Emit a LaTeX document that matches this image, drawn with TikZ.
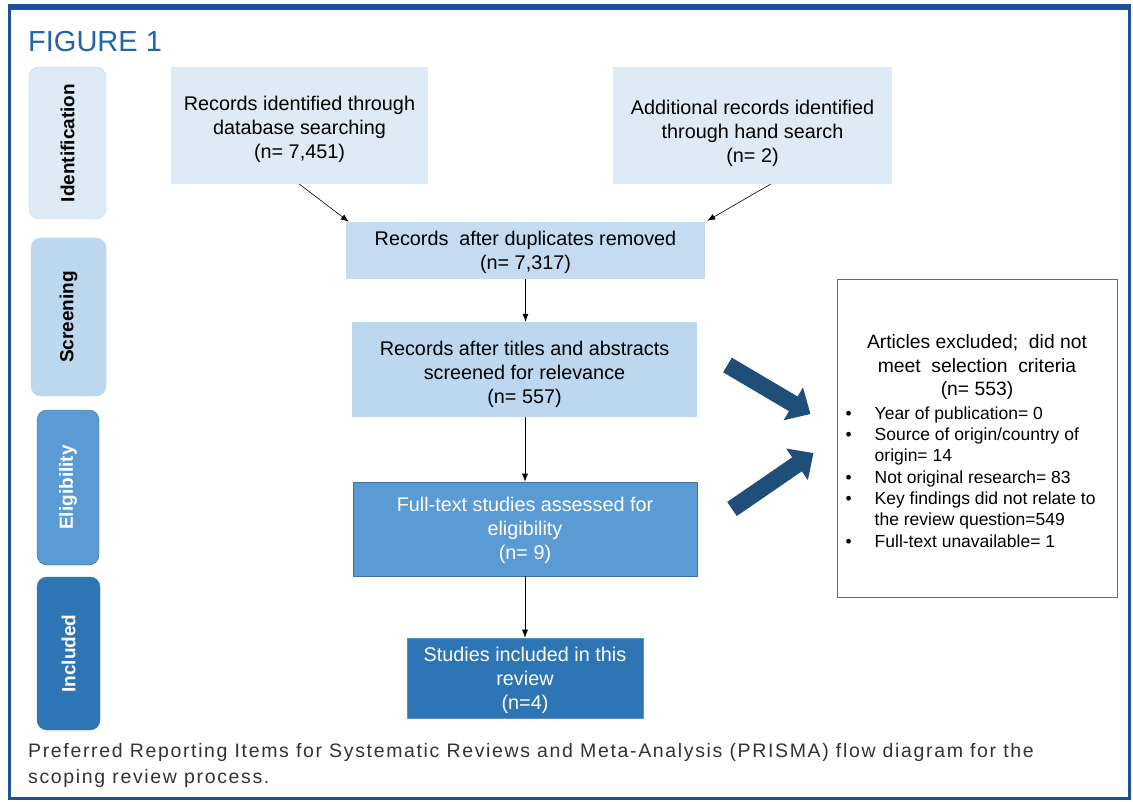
\documentclass[tikz,border=0pt]{standalone}
\usepackage{fontspec}
\setmainfont{Liberation Sans}
\newfontfamily\capfont[LetterSpace=8.5]{Liberation Sans}
\usetikzlibrary{arrows.meta,calc}
\definecolor{frameblue}{HTML}{1B529C}
\definecolor{titleblue}{HTML}{2363AE}
\definecolor{lightA}{HTML}{DEEBF7}
\definecolor{lightB}{HTML}{BDD7EE}
\definecolor{lightC}{HTML}{C4DBF0}
\definecolor{midblue}{HTML}{5B9BD5}
\definecolor{midborder}{HTML}{41719C}
\definecolor{darkblue}{HTML}{2E75B6}
\definecolor{navy}{HTML}{1F4E79}
\definecolor{gborder}{HTML}{4F6F95}
\definecolor{captiongray}{HTML}{333333}
\newcommand{\toppad}[1]{\rule{0pt}{#1pt}}
\begin{document}
\begin{tikzpicture}[x=1pt,y=-1pt,
  stagebox/.style={rounded corners=10pt, rotate=90, inner sep=0pt, font=\fontsize{19}{22}\selectfont\bfseries},
  flowbox/.style={rectangle, inner sep=0pt, align=center, font=\fontsize{19.8}{24}\selectfont},
  thinarrow/.style={draw=black, line width=0.6pt, -{Latex[length=8pt,width=6pt]}},
  bigarrow/.style={draw=navy, line width=17pt, -{Triangle[length=20pt,width=37pt]}},
]
\useasboundingbox (0,0) rectangle (1133,802);
\fill[white] (0,0) rectangle (1133,802);
% frame
\draw[frameblue, line width=3pt] (9,8) rectangle (1129,798);
\draw[frameblue, line width=6pt] (7.5,7) -- (1130.5,7);
% title
\node[anchor=base west, inner sep=0pt, text=titleblue, font=\fontsize{29}{32}\selectfont] (title) at (28,52) {FIGURE 1};

% stage boxes
\node[stagebox, fill=lightA, draw=lightB, minimum width=152pt, minimum height=77pt] (sid) at (67.5,143) {Identification};
\node[stagebox, fill=lightB, draw=lightB, minimum width=158pt, minimum height=75pt] (sscr) at (68.5,317) {Screening};
\node[stagebox, fill=midblue, draw=midborder, text=white, minimum width=155pt, minimum height=62pt] (selig) at (68,487.5) {Eligibility};
\node[stagebox, fill=darkblue, draw=darkblue, text=white, minimum width=153pt, minimum height=63pt] (sinc) at (68.5,653.5) {Included};

% flow boxes
\node[flowbox, fill=lightA, minimum width=257pt, minimum height=117pt] (A) at (299.5,125.5) {\toppad{22}Records identified through\\database searching\\(n= 7,451)};
\node[flowbox, fill=lightA, minimum width=279pt, minimum height=117pt] (B) at (752.5,125.5) {\toppad{30}Additional records identified\\through hand search\\(n= 2)};
\node[flowbox, fill=lightC, minimum width=359pt, minimum height=57pt] (C) at (525.5,250.5) {\toppad{18}Records\ \ after duplicates removed\\(n= 7,317)};
\node[flowbox, fill=lightB, minimum width=345pt, minimum height=95pt] (D) at (524.5,369.5) {\toppad{24}Records after titles and abstracts\\screened for relevance\\(n= 557)};
\node[flowbox, fill=midblue, draw=midborder, line width=0.6pt, text=white, minimum width=344pt, minimum height=94pt] (E) at (525,529) {\toppad{18}Full-text studies assessed for\\eligibility\\(n= 9)};
\node[flowbox, fill=darkblue, draw=darkblue!80!white, line width=0.6pt, text=white, minimum width=236pt, minimum height=80pt] (F) at (525,678) {\toppad{19}Studies included in this\\review\\(n=4)};

% excluded box
\node[rectangle, draw=gborder, line width=1pt, fill=white, minimum width=280pt, minimum height=317pt, inner sep=0pt] (G) at (977,438.5) {};
\node[align=center, inner sep=0pt, anchor=north, font=\fontsize{19.3}{23.5}\selectfont] (Ghead) at ($(G.north)+(0,55)$) {Articles excluded;\ \ did not\\meet\ \ selection\ \ criteria\\(n= 553)};
\node[align=left, inner sep=0pt, anchor=north west, font=\fontsize{17.5}{21.3}\selectfont] (Glist) at ($(G.north west)+(9,127)$) {%
\makebox[29pt][l]{\textbullet}Year of publication= 0\\
\makebox[29pt][l]{\textbullet}Source of origin/country of\\
\hspace*{29pt}origin= 14\\
\makebox[29pt][l]{\textbullet}Not original research= 83\\
\makebox[29pt][l]{\textbullet}Key findings did not relate to\\
\hspace*{29pt}the review question=549\\
\makebox[29pt][l]{\textbullet}Full-text unavailable= 1};

% thin connectors
\draw[thinarrow] (A.south) -- ($(C.north west)+(3,0)$);
\draw[thinarrow] ($(B.south)+(18,0)$) -- ($(C.north east)+(2,-1)$);
\draw[thinarrow] (C.south) -- (C.south |- D.north);
\draw[thinarrow] (D.south -| E.north) -- (E.north);
\draw[thinarrow] (E.south) -- (F.north);

% big arrows
\coordinate (u1) at ($(G.west)+(-109,-73.5)$);
\coordinate (u2) at ($(G.west)+(-26,-24.5)$);
\coordinate (l1) at ($(G.west)+(-104.5,70.5)$);
\coordinate (l2) at ($(G.west)+(-23,14.5)$);
\draw[bigarrow] (u1) -- (u2);
\draw[bigarrow] (l1) -- (l2);

% caption
\node[anchor=base west, align=left, inner sep=0pt, text=captiongray, font=\capfont\fontsize{19.5}{26}\selectfont] (cap) at (28,783) {Preferred Reporting Items for Systematic Reviews and Meta-Analysis (PRISMA) flow diagram for the\\scoping review process.};
\end{tikzpicture}
\end{document}
